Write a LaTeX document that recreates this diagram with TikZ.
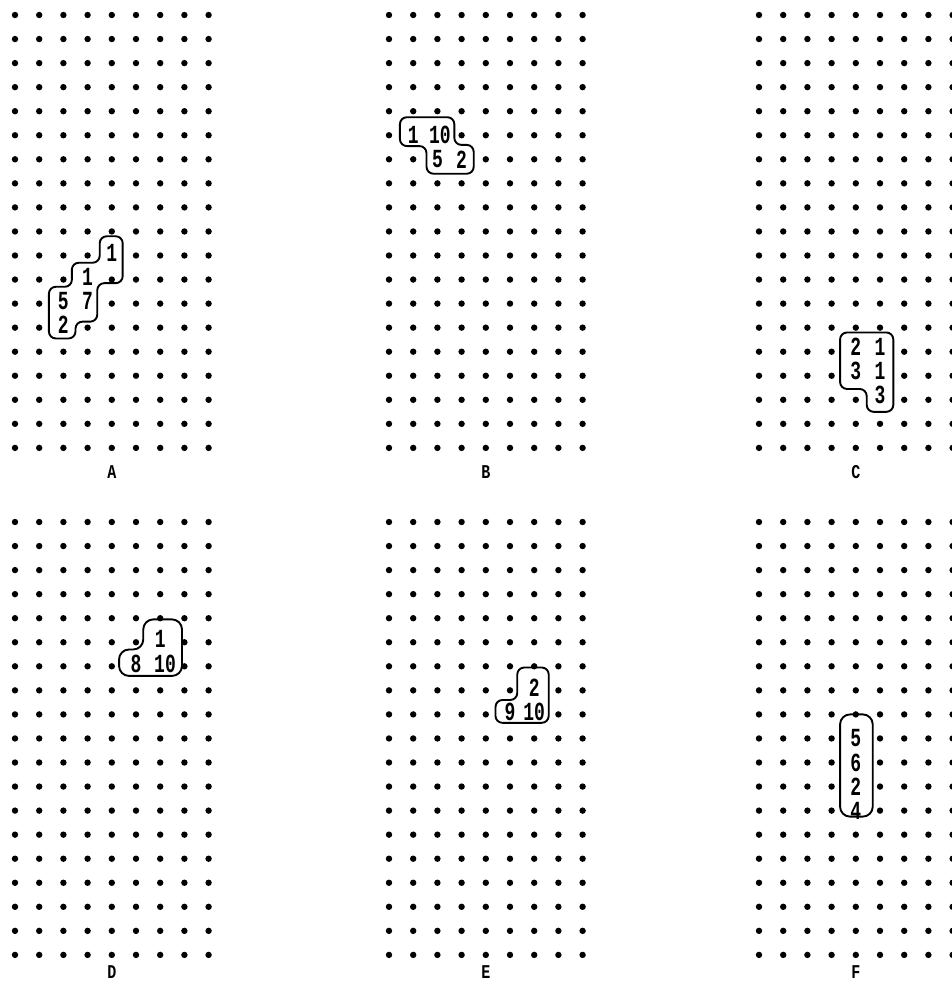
\documentclass[tikz,border=0pt]{standalone}
\usepackage{fontspec}
\setmonofont{Liberation Mono}
\newcommand{\tallglyph}[1]{\scalebox{1}[1.45]{#1}}

\begin{document}
\begin{tikzpicture}[x=1pt, y=-1pt]

  % Styles for the dot sheets
  \tikzset{
    digit/.style={font=\ttfamily\bfseries\fontsize{18}{18}\selectfont, fill=white, inner sep=0.6pt},
    tag/.style={font=\ttfamily\bfseries\fontsize{15}{15}\selectfont, inner sep=1pt},
    blob/.style={line width=1.9pt, rounded corners=7pt, line join=round}
  }

  \useasboundingbox (0,0) rectangle (951,982);

  % Six sheets of 9 x 19 dots, each with its letter below
  \foreach \px/\py/\row/\lab in {15/15/19.0/A, 389/15/19.0/B, 759/15/19.0/C,
                                 15/522/18.7/D, 389/522/18.7/E, 759/522/18.7/F} {
    \begin{scope}[shift={(\px,\py)}, x=24.2pt, y=-24.05pt]
      \foreach \c in {0,...,8}
        \foreach \r in {0,...,18}
          \fill (\c,\r) circle (3.2pt);
      \node[tag] (tag\lab) at (4,\row) {\scalebox{1}[1.3]{\lab}};
    \end{scope}
  }

  % Sheet A
  \begin{scope}[shift={(15,15)}, x=24.2pt, y=-24.05pt]
    \node[digit] (a1) at (4,9.9) {\tallglyph{1}};
    \node[digit] (a2) at (3,10.9) {\tallglyph{1}};
    \node[digit] (a3) at (2,11.9) {\tallglyph{5}};
    \node[digit] (a4) at (3,11.9) {\tallglyph{7}};
    \node[digit] (a5) at (2,12.9) {\tallglyph{2}};
    \draw[blob] (3.5,9.2) -- (4.45,9.2) -- (4.45,11.15) -- (3.4,11.15) -- (3.4,12.75)
      -- (2.5,12.75) -- (2.5,13.45) -- (1.4,13.45) -- (1.4,11.3) -- (2.35,11.3)
      -- (2.35,10.3) -- (3.5,10.3) -- cycle;
  \end{scope}

  % Sheet B
  \begin{scope}[shift={(389,15)}, x=24.2pt, y=-24.05pt]
    \node[digit] (b1) at (1,5) {\tallglyph{1}};
    \node[digit] (b2) at (2.1,5) {\tallglyph{10}};
    \node[digit] (b3) at (2,6) {\tallglyph{5}};
    \node[digit] (b4) at (3,6) {\tallglyph{2}};
    \draw[blob] (0.45,4.25) -- (2.7,4.25) -- (2.7,5.4) -- (3.5,5.4) -- (3.5,6.6)
      -- (1.55,6.6) -- (1.55,5.45) -- (0.45,5.45) -- cycle;
  \end{scope}

  % Sheet C
  \begin{scope}[shift={(759,15)}, x=24.2pt, y=-24.05pt]
    \node[digit] (c1) at (4,13.8) {\tallglyph{2}};
    \node[digit] (c2) at (5,13.8) {\tallglyph{1}};
    \node[digit] (c3) at (4,14.8) {\tallglyph{3}};
    \node[digit] (c4) at (5,14.8) {\tallglyph{1}};
    \node[digit] (c5) at (5,15.8) {\tallglyph{3}};
    \draw[blob] (3.35,13.2) -- (5.55,13.2) -- (5.55,16.5) -- (4.45,16.5)
      -- (4.45,15.55) -- (3.35,15.55) -- cycle;
  \end{scope}

  % Sheet D
  \begin{scope}[shift={(15,522)}, x=24.2pt, y=-24.05pt]
    \node[digit] (d1) at (6,4.85) {\tallglyph{1}};
    \node[digit] (d2) at (5,5.9) {\tallglyph{8}};
    \node[digit] (d3) at (6.2,5.9) {\tallglyph{10}};
    \draw[blob, rounded corners=10pt] (5.3,4.05) -- (6.9,4.05) -- (6.9,6.4) -- (4.3,6.4)
      -- (4.3,5.3) -- (5.3,5.3) -- cycle;
  \end{scope}

  % Sheet E
  \begin{scope}[shift={(389,522)}, x=24.2pt, y=-24.05pt]
    \node[digit] (e1) at (6,6.9) {\tallglyph{2}};
    \node[digit] (e2) at (5,7.9) {\tallglyph{9}};
    \node[digit] (e3) at (6,7.9) {\tallglyph{10}};
    \draw[blob] (5.3,6.05) -- (6.6,6.05) -- (6.6,8.35) -- (4.4,8.35)
      -- (4.4,7.4) -- (5.3,7.4) -- cycle;
  \end{scope}

  % Sheet F
  \begin{scope}[shift={(759,522)}, x=24.2pt, y=-24.05pt]
    \node[digit] (f1) at (4,9) {\tallglyph{5}};
    \node[digit] (f2) at (4,10) {\tallglyph{6}};
    \node[digit] (f3) at (4,11) {\tallglyph{2}};
    \node[digit] (f4) at (4,12) {\tallglyph{4}};
    \draw[blob, rounded corners=10pt] (3.35,8.0) rectangle (4.7,12.25);
  \end{scope}

\end{tikzpicture}
\end{document}
